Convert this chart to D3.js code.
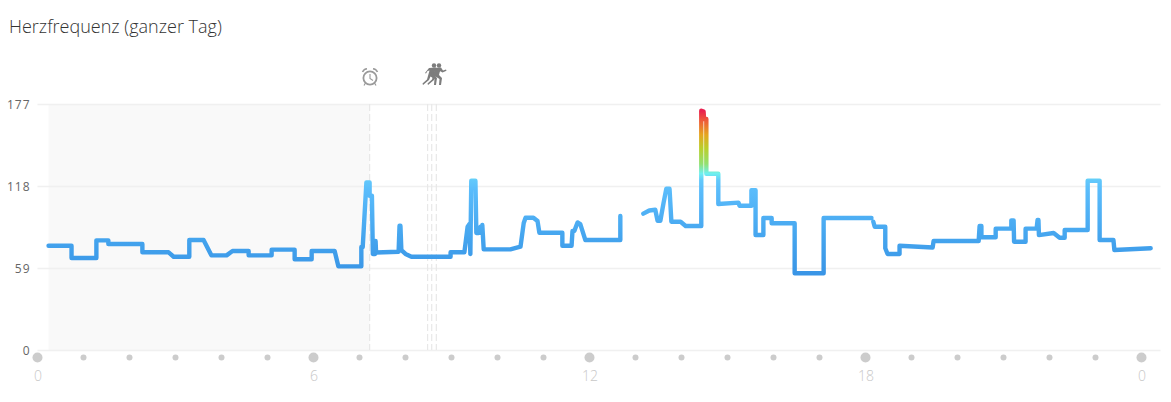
<!DOCTYPE html>
<html>
<head>
<meta charset="utf-8">
<script src="https://cdn.jsdelivr.net/npm/d3@7"></script>
<style>
  html, body { margin: 0; padding: 0; background: #fff; overflow: hidden; }
  text { font-family: "Open Sans", sans-serif; }
</style>
</head>
<body>
<script>
const hours = [
  0.24, 0.74, 0.74, 1.28, 1.28, 1.54, 1.54, 2.28, 2.28, 2.85, 2.96, 3.30, 3.30, 3.61, 3.78, 4.11, 4.24, 4.59, 4.59, 5.09,
  5.09, 5.59, 5.59, 5.96, 5.96, 6.46, 6.54, 7.04, 7.04, 7.07, 7.15, 7.22, 7.22, 7.27, 7.29, 7.34, 7.35, 7.36, 7.85, 7.87,
  7.89, 7.91, 8.00, 8.13, 8.98, 8.98, 9.28, 9.35, 9.39, 9.41, 9.43, 9.52, 9.54, 9.59, 9.63, 9.65, 9.67, 9.70, 10.28, 10.50,
  10.57, 10.61, 10.78, 10.87, 10.91, 11.41, 11.41, 11.61, 11.63, 11.67, 11.74, 11.80, 11.91, 12.67, 12.67, 12.9,
  13.17, 13.30, 13.43, 13.48, 13.54, 13.61, 13.67, 13.74, 13.78, 13.98, 14.09, 14.43, 14.43, 14.48, 14.49, 14.54, 14.54, 14.80, 14.80, 15.24,
  15.26, 15.52, 15.52, 15.61, 15.61, 15.78, 15.78, 15.96, 15.96, 16.46, 16.46, 17.09, 17.09, 18.13, 18.15,
  18.17, 18.20, 18.43, 18.43, 18.48, 18.74, 18.74, 19.46, 19.48, 20.46, 20.48, 20.52, 20.52, 20.83, 20.83, 21.17, 21.17, 21.22, 21.23,
  21.48, 21.48, 21.72, 21.74, 21.76, 21.77, 22.09, 22.22, 22.33, 22.33, 22.83, 22.83, 23.09, 23.09, 23.39, 23.41, 24.20
];
const bpm = [
  75.0, 75.0, 66.2, 66.2, 78.9, 78.9, 76.3, 76.3, 70.3, 70.3, 67.1, 67.1, 79.1, 79.1, 68.1, 68.1, 71.2, 71.2, 68.1, 68.1,
  72.2, 72.2, 65.3, 65.3, 71.2, 71.2, 60.2, 60.2, 74.1, 74.1, 120.6, 120.6, 111.0, 111.0, 69.1, 69.1, 78.4, 70.2, 70.7, 89.4,
  89.4, 71.9, 69.1, 67.1, 67.1, 70.3, 70.3, 88.7, 90.6, 69.1, 121.8, 121.8, 84.2, 84.2, 88.7, 84.2, 89.9, 72.4, 72.4, 74.3,
  91.4, 95.2, 95.2, 92.8, 84.4, 84.4, 75.0, 75.0, 85.6, 85.6, 91.8, 90.6, 79.1, 79.1, 96.4, null,
  98.1, 100.4, 100.9, 93.0, 93.0, 105.8, 116.0, 116.0, 92.3, 92.3, 89.2, 89.2, 172.2, 171.5, 166.2, 166.2, 126.8, 126.8, 105.0, 106.0,
  103.8, 103.8, 114.9, 114.9, 82.7, 82.7, 95.0, 95.0, 91.2, 91.2, 55.2, 55.2, 95.0, 95.0, null,
  92.3, 88.7, 88.7, 73.2, 69.1, 69.1, 75.0, 73.8, 78.4, 78.4, 89.2, 89.2, 81.1, 81.1, 87.3, 87.3, 93.3, 93.3, 77.9,
  77.9, 87.3, 87.3, 93.5, 93.5, 82.7, 84.2, 80.8, 80.8, 86.3, 86.3, 121.8, 121.8, 79.1, 79.1, 71.9, 73.2
];
const yTicks = [0, 59, 118, 177];
const xLabels = [0, 6, 12, 18, 24];
const hourMarks = d3.range(0, 25);
const sleepSpan = [0.24, 7.22];
const alarmHour = 7.22;
const activityHours = [8.48, 8.57, 8.67];
const gradientBpm = [55, 80, 115, 122, 127, 134, 145, 155, 165, 172];
const gradientColors = ['#3995e6', '#44a4ee', '#5abcfb', '#62c8fb', '#6ef0ee', '#93e070', '#b9cf2c', '#e5a51f', '#ee5a38', '#e9204f'];

const width = 1171, height = 402;
const x = d3.scaleLinear().domain([0, 24]).range([37.5, 1141.5]);
const y = d3.scaleLinear().domain([0, 177]).range([350, 104]);

const svg = d3.select('body').append('svg').attr('width', width).attr('height', height);

svg.append('text').text('Herzfrequenz (ganzer Tag)')
  .attr('x', 9).attr('y', 33)
  .attr('fill', '#333')
  .style('font-size', '18px')
  .style('font-weight', 300);

// sleep block
svg.append('rect')
  .attr('x', x(sleepSpan[0])).attr('y', y(177))
  .attr('width', x(sleepSpan[1]) - x(sleepSpan[0])).attr('height', y(0) - y(177))
  .attr('fill', '#f9f9f9');

// horizontal grid + labels
const yAxis = svg.append('g')
  .attr('transform', `translate(${x(0)},0)`)
  .call(d3.axisLeft(y).tickValues(yTicks).tickSize(-1123).tickPadding(7));
yAxis.select('.domain').remove();
yAxis.selectAll('.tick line').attr('stroke', '#f0f0f0').attr('stroke-width', 1.5);
yAxis.selectAll('.tick text')
  .attr('y', 1)
  .attr('fill', '#666')
  .style('font-size', '12px')
  .style('letter-spacing', '1px')
  .style('font-family', '"Open Sans", sans-serif');

// event markers
svg.selectAll('line.event')
  .data([alarmHour].concat(activityHours))
  .join('line')
  .attr('class', 'event')
  .attr('x1', d => x(d)).attr('x2', d => x(d))
  .attr('y1', y(177)).attr('y2', y(0))
  .attr('stroke', '#e8e8e8')
  .attr('stroke-width', 1.2)
  .attr('stroke-dasharray', '7 3');

// bottom hour dots
svg.selectAll('circle.hour')
  .data(hourMarks)
  .join('circle')
  .attr('class', 'hour')
  .attr('cx', d => x(d))
  .attr('cy', 357.5)
  .attr('r', d => d % 6 === 0 ? 5 : 3)
  .attr('fill', '#cccccc');

const xAxis = svg.append('g')
  .attr('transform', 'translate(0,361)')
  .call(d3.axisBottom(x).tickValues(xLabels).tickSize(0).tickPadding(10).tickFormat(d => d % 24));
xAxis.select('.domain').remove();
xAxis.selectAll('.tick text')
  .attr('fill', '#c8c8c8')
  .style('font-size', '14px')
  .style('font-family', '"Open Sans", sans-serif')
  .style('font-weight', 300);

// colour follows heart rate
const grad = svg.append('defs').append('linearGradient')
  .attr('id', 'hrGradient')
  .attr('gradientUnits', 'userSpaceOnUse')
  .attr('x1', 0).attr('x2', 0)
  .attr('y1', y(0)).attr('y2', y(177));
const gradOffset = d3.scaleLinear().domain([0, 177]).range([0, 100]);
gradientBpm.forEach((b, i) => {
  grad.append('stop')
    .attr('offset', gradOffset(b) + '%')
    .attr('stop-color', gradientColors[i]);
});

const points = hours.map((h, i) => [h, bpm[i]]);
const line = d3.line()
  .defined(d => d[1] !== null)
  .x(d => x(d[0]))
  .y(d => y(d[1]));

svg.append('path')
  .attr('d', line(points))
  .attr('fill', 'none')
  .attr('stroke', 'url(#hrGradient)')
  .attr('stroke-width', 4.4)
  .attr('stroke-linejoin', 'round')
  .attr('stroke-linecap', 'round');

// alarm clock icon
const clock = svg.append('g')
  .attr('transform', 'translate(370,78)')
  .attr('fill', 'none')
  .attr('stroke', '#9a9a9a');
clock.append('circle').attr('r', 6.6).attr('stroke-width', 1.8);
clock.append('path').attr('d', 'M0,-4 V0.5 L3,2.5').attr('stroke-width', 1.1);
clock.append('path').attr('d', 'M-7.5,-6 Q-6,-9 -3,-9.3 M7.5,-6 Q6,-9 3,-9.3').attr('stroke-width', 1.6);
clock.append('path').attr('d', 'M-4.5,5 L-6,7.5 M4.5,5 L6,7.5').attr('stroke-width', 1.2);

// runners icon
const runners = svg.append('g')
  .attr('transform', 'translate(434,75)')
  .attr('fill', '#7d7d7d');
[0, 5].forEach(o => {
  const r = runners.append('g').attr('transform', `translate(${o},0)`);
  r.append('circle').attr('cx', 0).attr('cy', -9.5).attr('r', 2.2);
  r.append('path').attr('d', 'M-5,-7 L2,-7.5 L4,-4.5 L7,-5.5 L7.5,-4.2 L3.5,-2.5 L1,-4 L0,0 L3,3 L2,10 L0,10 L0.5,4 L-3.5,1.5 L-5,5 L-11,10 L-11.5,8.5 L-7,4.5 L-4.5,-4.5 L-6.5,-4 L-8,-1.5 L-9,-2 Z');
});
</script>
</body>
</html>
